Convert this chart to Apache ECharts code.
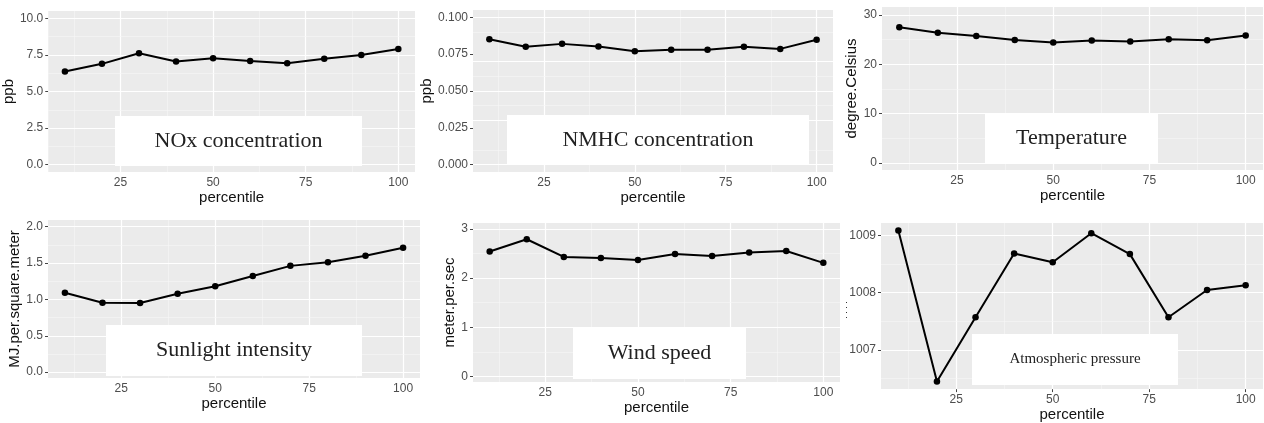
<!DOCTYPE html>
<html>
<head>
<meta charset="utf-8">
<script src="https://cdn.jsdelivr.net/npm/echarts@6/dist/echarts.min.js"></script>
<style>html,body{margin:0;padding:0;background:#fff;}#c{width:1264px;height:423px;}</style>
</head>
<body>
<div id="c"></div>
<script>
// ---- data ----
const percentile = [10, 20, 30, 40, 50, 60, 70, 80, 90, 100];
const nox = [6.36, 6.89, 7.61, 7.05, 7.27, 7.09, 6.93, 7.23, 7.50, 7.91];
const nmhc = [0.0852, 0.0800, 0.0820, 0.0802, 0.0770, 0.0780, 0.0780, 0.0800, 0.0786, 0.0848];
const temperature = [27.5, 26.4, 25.7, 24.9, 24.4, 24.8, 24.6, 25.05, 24.85, 25.8];
const sunlight = [1.09, 0.954, 0.95, 1.078, 1.18, 1.32, 1.46, 1.51, 1.60, 1.71];
const windSpeed = [2.54, 2.79, 2.43, 2.41, 2.37, 2.49, 2.45, 2.52, 2.55, 2.31];
const pressure = [1009.086, 1006.446, 1007.571, 1008.686, 1008.531, 1009.04, 1008.674, 1007.571, 1008.046, 1008.131];

const xBreaks = [25, 50, 75, 100];
const xMinor = [12.5, 37.5, 62.5, 87.5];

const noxTicks = [0, 2.5, 5, 7.5, 10];
const noxMinor = [1.25, 3.75, 6.25, 8.75];
const nmhcTicks = [0, 0.025, 0.05, 0.075, 0.1];
const nmhcMinor = [0.0125, 0.0375, 0.0625, 0.0875];
const tempTicks = [0, 10, 20, 30];
const tempMinor = [5, 15, 25];
const sunTicks = [0, 0.5, 1.0, 1.5, 2.0];
const sunMinor = [0.25, 0.75, 1.25, 1.75];
const windTicks = [0, 1, 2, 3];
const windMinor = [0.5, 1.5, 2.5];
const pressTicks = [1007, 1008, 1009];
const pressMinor = [1006.5, 1007.5, 1008.5];

const yTitles = ['ppb', 'ppb', 'degree.Celsius', 'MJ.per.square.meter', 'meter.per.sec', ''];
const panelTitles = ['NOx concentration', 'NMHC concentration', 'Temperature', 'Sunlight intensity', 'Wind speed', 'Atmospheric pressure'];

// ---- layout ----
const panels = [
  {grid: {left: 47, top: 11, width: 368, height: 161}, y: [-0.5, 10.5], ticks: noxTicks, minor: noxMinor, dec: 1, values: nox, nameGap: 30, box: [115, 116, 247, 50, 22]},
  {grid: {left: 473, top: 10, width: 360, height: 162}, y: [-0.005, 0.105], ticks: nmhcTicks, minor: nmhcMinor, dec: 3, values: nmhc, nameGap: 33, box: [507, 115, 302, 50, 22]},
  {grid: {left: 882, top: 7, width: 381, height: 163}, y: [-1.45, 31.6], ticks: tempTicks, minor: tempMinor, dec: 0, values: temperature, nameGap: 19, box: [985, 113, 173, 51, 22]},
  {grid: {left: 48, top: 220, width: 372, height: 158}, y: [-0.08, 2.09], ticks: sunTicks, minor: sunMinor, dec: 1, values: sunlight, nameGap: 23, box: [106, 325, 256, 51, 22]},
  {grid: {left: 473, top: 223, width: 367, height: 159}, y: [-0.11, 3.12], ticks: windTicks, minor: windMinor, dec: 0, values: windSpeed, nameGap: 10, box: [573, 327, 173, 52, 22]},
  {grid: {left: 881, top: 223, width: 382, height: 169}, y: [1006.314, 1009.218], ticks: pressTicks, minor: pressMinor, dec: 0, values: pressure, nameGap: 30, box: [972, 334, 206, 51, 15]}
];

const SANS = "'Liberation Sans', Arial, sans-serif";
const SERIF = "'Liberation Serif', 'Times New Roman', serif";

const grids = [], xAxes = [], yAxes = [], series = [], graphics = [];

panels.forEach((p, i) => {
  grids.push(Object.assign({show: true, backgroundColor: '#EBEBEB', borderWidth: 0, containLabel: false}, p.grid));
  xAxes.push({
    type: 'value', gridIndex: i, min: 5.5, max: 104.5,
    axisLine: {show: false},
    axisTick: {show: true, length: 3, lineStyle: {color: '#444', width: 1}, customValues: xBreaks},
    axisLabel: {customValues: xBreaks, color: '#4D4D4D', fontSize: 12, fontFamily: SANS, margin: 5},
    splitLine: {show: false},
    name: 'percentile', nameLocation: 'middle', nameGap: 17,
    nameTextStyle: {color: '#111', fontSize: 15, fontFamily: SANS}
  });
  yAxes.push({
    type: 'value', gridIndex: i, min: p.y[0], max: p.y[1],
    axisLine: {show: false},
    axisTick: {show: true, length: 3, lineStyle: {color: '#444', width: 1}, customValues: p.ticks},
    axisLabel: {customValues: p.ticks, color: '#4D4D4D', fontSize: 12, fontFamily: SANS, margin: 5,
      formatter: v => Number(v).toFixed(p.dec)},
    splitLine: {show: false},
    name: yTitles[i], nameLocation: 'middle', nameGap: p.nameGap,
    nameTextStyle: {color: '#111', fontSize: 15, fontFamily: SANS}
  });
  const gridLines = [];
  xBreaks.forEach(v => gridLines.push({xAxis: v, lineStyle: {color: '#FFFFFF', width: 1.2, type: 'solid'}}));
  xMinor.forEach(v => gridLines.push({xAxis: v, lineStyle: {color: '#F7F7F7', width: 0.6, type: 'solid'}}));
  p.ticks.forEach(v => gridLines.push({yAxis: v, lineStyle: {color: '#FFFFFF', width: 1.2, type: 'solid'}}));
  p.minor.forEach(v => gridLines.push({yAxis: v, lineStyle: {color: '#F7F7F7', width: 0.6, type: 'solid'}}));
  const data = percentile.map((x, k) => [x, p.values[k]]);
  series.push({
    type: 'line', xAxisIndex: i, yAxisIndex: i, data: data, z: 1, zlevel: 0,
    symbol: 'none', lineStyle: {opacity: 0}, silent: true, animation: false,
    markLine: {silent: true, symbol: 'none', animation: false, z: 1, label: {show: false}, data: gridLines}
  });
  series.push({
    type: 'line', xAxisIndex: i, yAxisIndex: i, data: data, z: 10, zlevel: 0,
    symbol: 'circle', symbolSize: 6.5,
    itemStyle: {color: '#000'},
    lineStyle: {color: '#000', width: 2},
    animation: false
  });
  const b = p.box;
  graphics.push({type: 'rect', z: 100, shape: {x: b[0], y: b[1], width: b[2], height: b[3]}, style: {fill: '#FFFFFF'}});
  graphics.push({type: 'text', z: 101, x: b[0] + b[2] / 2, y: b[1] + b[3] / 2,
    style: {text: panelTitles[i], font: b[4] + 'px ' + SERIF, fill: '#222', align: 'center', verticalAlign: 'middle'}});
});

// clipped y-axis title remnant on the pressure panel
graphics.push({type: 'text', z: 101, x: 845, y: 310, rotation: Math.PI / 2,
  style: {text: '. . . .', font: '9px ' + SANS, fill: '#333', align: 'center', verticalAlign: 'middle'}});

const chart = echarts.init(document.getElementById('c'), null, {renderer: 'canvas'});
chart.setOption({
  animation: false,
  backgroundColor: '#FFFFFF',
  grid: grids, xAxis: xAxes, yAxis: yAxes, series: series, graphic: graphics
});
</script>
</body>
</html>
